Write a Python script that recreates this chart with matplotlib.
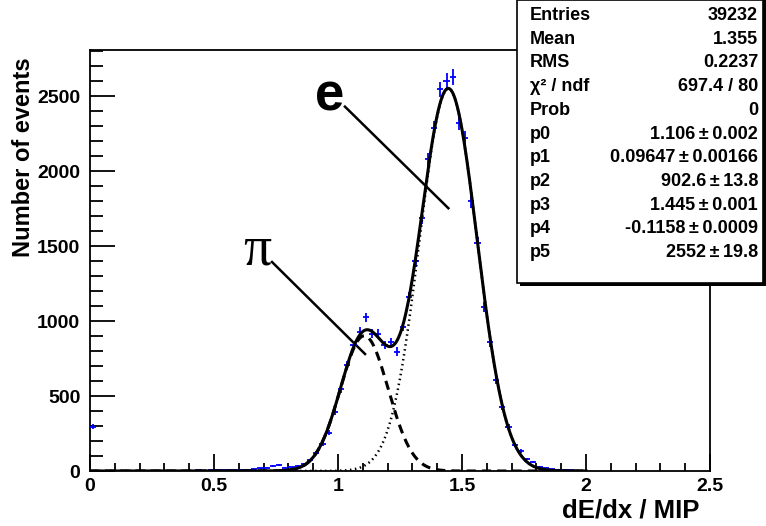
import numpy as np
import matplotlib
matplotlib.use("Agg")
import matplotlib.pyplot as plt
from matplotlib.patches import Rectangle
from matplotlib.ticker import MultipleLocator

plt.rcParams['font.family'] = ['Liberation Sans', 'DejaVu Sans']

# ---- data (histogram, bin width 0.025, 0..2.5) ----
bin_width = 0.025
counts = [295, 0, 0, 0, 0, 0, 0, 0, 0, 0,
          0, 0, 0, 0, 3, 2, 3, 4, 3, 5,
          4, 6, 5, 7, 8, 10, 12, 18, 22, 35,
          38, 22, 25, 32, 45, 73, 122, 182, 256, 392,
          545, 710, 841, 928, 1025, 915, 915, 842, 858, 797,
          963, 1160, 1400, 1690, 2080, 2290, 2548, 2605, 2630, 2321,
          2221, 1800, 1520, 1095, 860, 607, 428, 295, 176, 135,
          80, 60, 30, 22, 13, 8, 6, 4, 2, 1,
          0, 0, 0, 0, 0, 0, 0, 0, 0, 0,
          0, 0, 0, 0, 0, 0, 0, 0, 0, 0]

# fit parameters (from stats box): pion gaussian p0..p2, electron gaussian p3..p5
p = [1.106, 0.09647, 902.6, 1.445, -0.1158, 2552]

stat_labels = ["Entries", "Mean", "RMS", "\u03c7\u00b2 / ndf", "Prob",
               "p0", "p1", "p2", "p3", "p4", "p5"]
stat_values = ["39232", "1.355", "0.2237", "697.4 / 80", "0",
               "1.106 \u00b1 0.002", "0.09647 \u00b1 0.00166", "902.6 \u00b1 13.8",
               "1.445 \u00b1 0.001", "-0.1158 \u00b1 0.0009", "2552 \u00b1 19.8"]

W, H = 766, 526
fig = plt.figure(figsize=(W / 100, H / 100), dpi=100)
L, R, T, B = 90, 710, 50, 471
ax = fig.add_axes([L / W, 1 - B / H, (R - L) / W, (B - T) / H])

counts = np.array(counts, dtype=float)
centers = bin_width * (np.arange(len(counts)) + 0.5)
mask = counts > 0
ax.errorbar(centers[mask], counts[mask], xerr=bin_width / 2, yerr=np.sqrt(counts[mask]),
            fmt='none', ecolor='#0000ff', elinewidth=1.3, capsize=0, zorder=3)

xf = np.linspace(0, 2.0, 1000)
g_pi = p[2] * np.exp(-0.5 * ((xf - p[0]) / p[1]) ** 2)
g_e = p[5] * np.exp(-0.5 * ((xf - p[3]) / p[4]) ** 2)
ax.plot(xf, g_pi, color='black', lw=2.2, ls=(0, (3, 2)), zorder=4)
ax.plot(xf, g_e, color='black', lw=1.8, ls=(0, (0.6, 1.4)), zorder=4)
ax.plot(xf, g_pi + g_e, color='black', lw=2.2, zorder=5)

ax.set_xlim(0, 2.5)
ax.set_ylim(0, 2810)
ax.xaxis.set_major_locator(MultipleLocator(0.5))
ax.xaxis.set_minor_locator(MultipleLocator(0.1))
ax.yaxis.set_major_locator(MultipleLocator(500))
ax.yaxis.set_minor_locator(MultipleLocator(100))
ax.tick_params(which='both', direction='in', top=False, right=False, width=1.3)
ax.tick_params(which='major', axis='y', length=18, pad=7)
ax.tick_params(which='minor', axis='y', length=9)
ax.tick_params(which='major', axis='x', length=12, pad=5)
ax.tick_params(which='minor', axis='x', length=6)
ax.xaxis.set_major_formatter(matplotlib.ticker.FuncFormatter(lambda v, _: f"{v:g}"))
ax.yaxis.set_major_formatter(matplotlib.ticker.FuncFormatter(lambda v, _: f"{v:g}"))
for lab in ax.get_xticklabels() + ax.get_yticklabels():
    lab.set_fontsize(14)
    lab.set_fontweight('bold')
for s in ax.spines.values():
    s.set_linewidth(1.3)

# annotations
ax.text(0.968, 2500, "e", fontsize=38, fontweight='bold', ha='center', va='center')
ax.plot([1.028, 1.445], [2432, 1754], color='black', lw=1.8)
ax.text(0.674, 1475, "\u03c0", fontsize=40, family='Liberation Serif', ha='center', va='center')
ax.plot([0.734, 1.109], [1395, 781], color='black', lw=1.8)

# axis titles
fig.text(699 / W, 1 - 510 / H, "dE/dx / MIP", fontsize=18.5, fontweight='bold', ha='right', va='center')
fig.text(24 / W, 1 - 57 / H, "Number of events", fontsize=17, fontweight='bold',
         rotation=90, ha='center', va='top')

# stats box
bx0, by0, bx1, by1 = 517, 0, 763, 283
fig.patches.append(Rectangle(((bx0 + 3) / W, 1 - (by1 + 3) / H), (bx1 - bx0) / W, (by1 - by0 + 3) / H,
                             transform=fig.transFigure, facecolor='black', edgecolor='none', zorder=10))
fig.patches.append(Rectangle((bx0 / W, 1 - by1 / H), (bx1 - bx0) / W, (by1 - by0) / H,
                             transform=fig.transFigure, facecolor='white', edgecolor='black', lw=1.2, zorder=11))
for i, (lab, val) in enumerate(zip(stat_labels, stat_values)):
    yy = 1 - (15.5 + i * 23.7) / H
    fig.text(530 / W, yy, lab, fontsize=13, fontweight='bold', ha='left', va='center', zorder=12)
    fig.text(758 / W, yy, val.replace(" \u00b1 ", "\u2009\u00b1\u2009"), fontsize=13, fontweight='bold',
             ha='right', va='center', zorder=12, family=['Liberation Sans', 'DejaVu Sans'])

fig.savefig("out.png", dpi=100)
